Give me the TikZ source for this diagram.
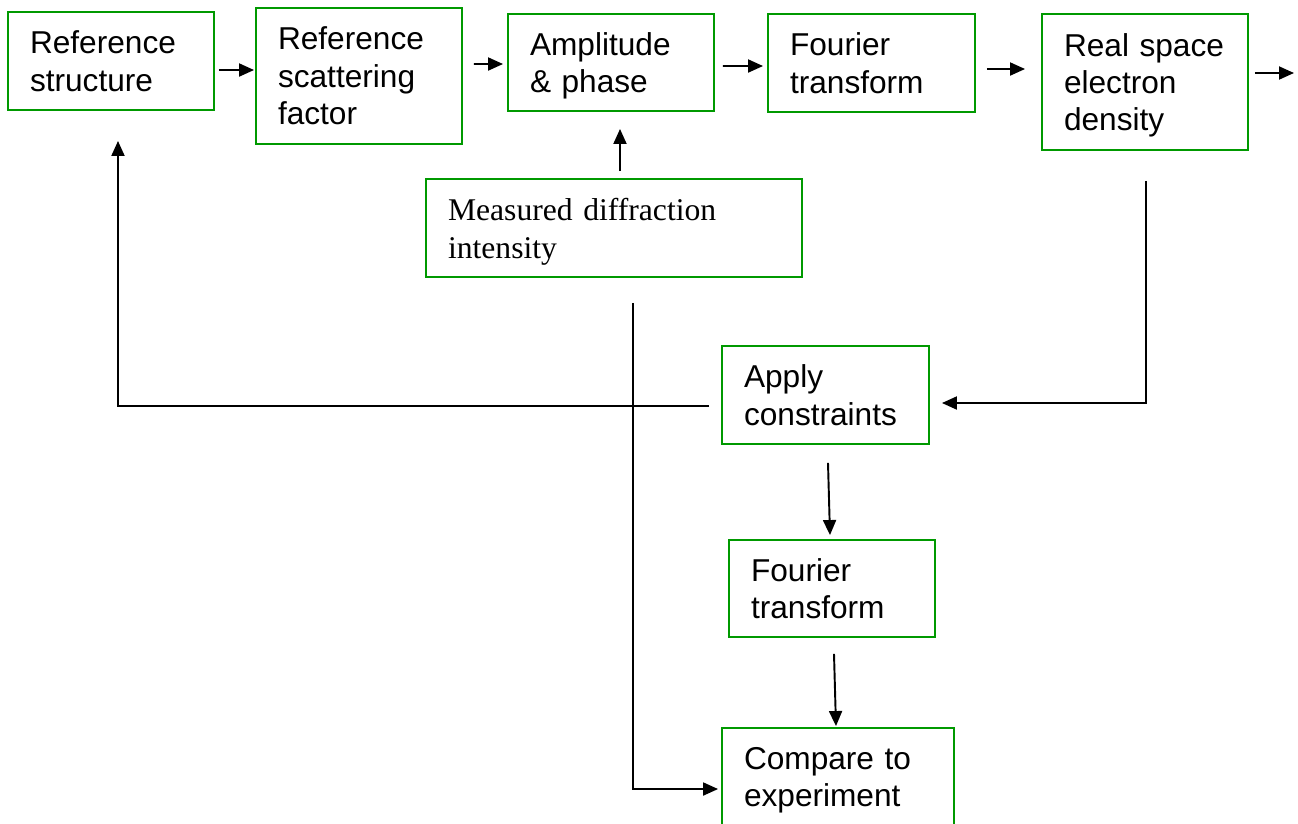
\documentclass[tikz,border=0pt]{standalone}
\usepackage{fontspec}
\setmainfont{Liberation Sans}
\newfontfamily\timesfont{Liberation Serif}
\usetikzlibrary{arrows.meta}

\begin{document}
\begin{tikzpicture}[x=0.02cm,y=-0.02cm,
  box/.style={draw=green!60!black, line width=1.1pt, rectangle, inner xsep=0.44cm, inner ysep=0pt,
    align=left, minimum height=1.96cm, font=\fontsize{18}{21.3}\selectfont},
  arr/.style={-{Triangle[length=0.3cm,width=0.26cm]}, line width=1.1pt}]
  \useasboundingbox (0,0) rectangle (1298,823);
  \clip (0,0) rectangle (1298,823);

  \node (ref) [box, text width=3.24cm] at (111,61) {Reference\\structure};
  \node (scat) [box, text width=3.24cm, minimum height=2.72cm] at (359,76) {Reference\\scattering\\factor};
  \node (amp) [box, text width=3.24cm, minimum height=1.94cm] at (611,62.5) {Amplitude\\\smash{\& phase}};
  \node (ft) [box, text width=3.26cm] at (871.5,63) {Fourier\\transform};
  \node (dens) [box, text width=3.24cm, minimum height=2.72cm] at (1145,82) {Real space\\electron\\\smash{density}};
  \node (meas) [box, text width=6.64cm, font=\timesfont\fontsize{18}{21.6}\selectfont] at (614,228) {Measured diffraction\\\smash{intensity}};
  \node (cons) [box, text width=3.26cm] at (825.5,395) {Apply\\constraints};
  \node (ft2) [box, text width=3.24cm, minimum height=1.94cm] at (832,588.5) {Fourier\\transform};
  \node (comp) [box, text width=3.76cm] at (838,777) {Compare to\\\smash{experiment}};
  \coordinate (exit) at (1294,73);

  \draw[arr] ([shift={(4,9)}]ref.east) -- ([shift={(-1,-6)}]scat.west);
  \draw[arr] ([shift={(11,-12)}]scat.east) -- ([shift={(-4,1.5)}]amp.west);
  \draw[arr] ([shift={(8,3.5)}]amp.east) -- ([shift={(-4,3)}]ft.west);
  \draw[arr] ([shift={(11,6)}]ft.east) -- ([shift={(-16,-13)}]dens.west);
  \draw[arr] ([shift={(6,-9)}]dens.east) -- (exit);
  \draw[arr] ([shift={(6,-7)}]meas.north) -- ([shift={(9,17)}]amp.south);
  \draw[arr] ([shift={(1,30)}]dens.south) |- ([shift={(12,8)}]cons.east);
  \draw[arr] ([shift={(-12,11)}]cons.west) -| ([shift={(7,30)}]ref.south);
  \draw[arr] ([shift={(2.5,18)}]cons.south) -- ([shift={(-2,-4)}]ft2.north);
  \draw[arr] ([shift={(2,16)}]ft2.south) -- ([shift={(-2,-1)}]comp.north);
  \draw[arr] ([shift={(19,25)}]meas.south) |- ([shift={(-3,12)}]comp.west);
\end{tikzpicture}
\end{document}
